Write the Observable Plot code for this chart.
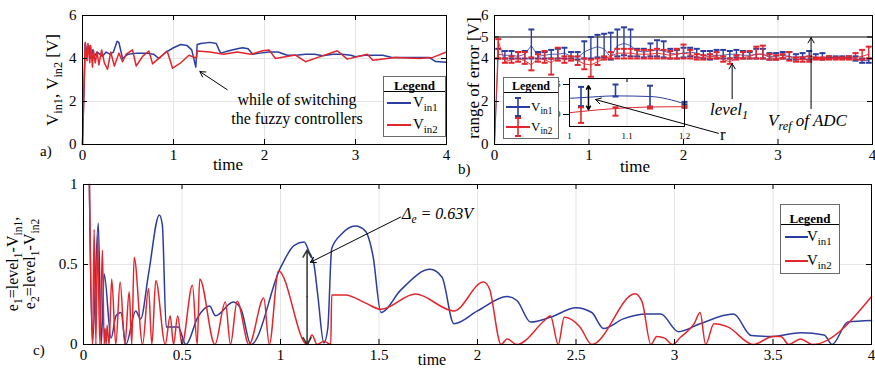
<!DOCTYPE html>
<html><head><meta charset="utf-8">
<script src="https://cdn.jsdelivr.net/npm/d3@7"></script>
<script src="https://cdn.jsdelivr.net/npm/@observablehq/plot@0.6"></script>
<style>
body{margin:0;background:#fff;}
#root{position:relative;width:875px;height:370px;overflow:hidden;font-family:"Liberation Serif","Times New Roman","Tinos","Nimbus Roman","FreeSerif","Noto Serif","DejaVu Serif",serif;color:#000;}
.abs{position:absolute;white-space:nowrap;line-height:1;}
.plot{position:absolute;}
.rot{transform:translate(-50%,-50%) rotate(-90deg);}
.ctr{transform:translateX(-50%);}
.sub{font-size:0.72em;position:relative;top:0.35em;}
.it{font-style:italic;}
.legend{position:absolute;background:#fff;border:1.5px solid #6a6a6a;box-sizing:border-box;}
.ltitle{position:absolute;left:0;right:0;top:0;text-align:center;font-weight:bold;font-size:13px;line-height:1;border-bottom:1px solid #000;}
.lsym{position:absolute;overflow:visible;}
.ltext{position:absolute;font-size:15px;line-height:1;white-space:nowrap;}
</style>
</head><body><div id="root"></div>
<script>
// ---------- Panel a data (time, V) ----------
const aT1 = [0,0.03,0.05,0.07,0.09,0.11,0.13,0.16,0.19,0.22,0.26,0.30,0.34,0.38,0.40,0.44,0.50,0.60,0.70,0.78,0.84,0.92,1.00,1.08,1.15,1.20,1.245,1.26,1.30,1.40,1.47,1.50,1.52,1.60,1.70,1.76,1.82,1.87,1.95,2.05,2.15,2.25,2.35,2.45,2.55,2.64,2.75,2.85,2.95,3.00,3.10,3.20,3.30,3.40,3.50,3.60,3.70,3.81,3.88,4.00];
const aV1 = [0,4.7,4.2,4.6,4.0,4.4,4.1,4.3,4.2,4.1,4.3,4.2,4.3,4.8,4.75,4.0,4.2,4.25,4.25,4.2,4.0,4.3,4.5,4.65,4.6,4.4,3.6,4.65,4.7,4.75,4.7,4.4,4.25,4.35,4.45,4.5,4.45,4.2,4.25,4.3,4.3,4.15,4.15,4.2,4.2,4.13,4.2,4.2,4.15,4.08,4.15,4.15,4.15,4.05,4.05,4.05,4.05,4.05,3.86,3.83];
const aT2 = [0,0.03,0.05,0.06,0.08,0.09,0.11,0.12,0.14,0.16,0.18,0.21,0.24,0.275,0.31,0.35,0.40,0.44,0.48,0.55,0.59,0.66,0.73,0.77,0.85,0.93,0.99,1.08,1.17,1.23,1.255,1.26,1.40,1.55,1.70,1.85,1.98,2.05,2.12,2.34,2.45,2.62,2.80,2.91,3.13,3.19,3.44,3.70,3.85,4.00];
const aV2 = [0,4.75,3.9,4.7,3.8,4.6,3.6,4.4,3.8,4.3,3.7,4.4,3.8,3.5,4.3,3.65,4.25,3.85,4.2,4.4,3.65,4.1,4.35,3.75,4.05,4.35,3.55,3.8,4.15,4.05,4.05,4.35,4.3,4.2,4.3,4.2,4.36,4.4,4.0,4.16,3.85,4.1,4.36,3.97,4.2,3.92,4.05,4.0,4.05,4.3];
const aArrow = [{x1:1.59,y1:2.55,x2:1.29,y2:3.39}];

// ---------- Panel b data (error bars) ----------
const bT = [0.04,0.11,0.18,0.25,0.32,0.39,0.46,0.53,0.60,0.67,0.74,0.81,0.88,0.95,1.02,1.09,1.16,1.23,1.30,1.37,1.44,1.51,1.58,1.65,1.72,1.79,1.86,1.93,2.00,2.07,2.14,2.21,2.28,2.35,2.42,2.49,2.56,2.63,2.70,2.77,2.84,2.91,2.98,3.05,3.12,3.19,3.26,3.33,3.40,3.47,3.54,3.61,3.68,3.75,3.82,3.89,3.96];
const bBlue = [4.2,4.15,4.15,4.1,4.2,4.6,4.1,4.15,4.2,4.2,4.25,4.1,4.05,4.3,4.45,4.55,4.45,4.05,4.6,4.7,4.6,4.35,4.3,4.35,4.4,4.35,4.25,4.2,4.25,4.3,4.25,4.15,4.1,4.15,4.15,4.2,4.2,4.15,4.15,4.2,4.2,4.1,4.1,4.15,4.1,4.05,4.1,4.1,4.05,4.05,4.05,4.05,4.05,4.05,4.0,3.9,3.9];
const bBlueLo = [4.0,4.0,4.0,4.0,4.0,4.0,4.0,4.0,4.0,4.0,4.0,4.0,3.95,4.0,4.0,4.05,4.05,3.95,4.1,4.15,4.1,4.1,4.05,4.1,4.1,4.05,4.0,4.0,4.05,4.1,4.05,4.0,3.95,4.0,4.0,4.0,4.05,4.0,4.0,4.0,4.0,3.95,3.95,4.0,3.95,3.95,4.0,3.95,4.0,3.95,4.0,4.0,4.0,4.0,3.9,3.8,3.8];
const bBlueHi = [4.45,4.35,4.35,4.3,4.35,5.35,4.3,4.3,4.4,4.45,4.5,4.3,4.3,4.8,5.0,5.1,5.15,5.2,5.35,5.45,5.35,4.45,4.45,4.7,4.85,4.8,4.45,4.4,4.5,4.5,4.45,4.35,4.35,4.4,4.4,4.35,4.4,4.35,4.3,4.45,4.45,4.25,4.25,4.3,4.3,4.2,4.25,4.35,4.2,4.25,4.1,4.1,4.1,4.1,4.1,4.0,4.0];
const bRed = [4.8,3.85,3.95,4.0,3.9,3.7,4.0,3.95,3.8,4.05,3.95,4.0,3.9,3.75,3.7,3.85,4.0,4.1,4.25,4.25,4.25,4.2,4.2,4.2,4.25,4.2,4.15,4.2,4.25,4.2,4.05,4.05,4.1,4.1,3.95,3.85,4.0,4.05,4.1,4.2,4.2,4.05,4.0,4.05,4.1,3.95,3.95,3.95,4.0,4.0,4.0,4.0,4.0,4.0,4.05,4.1,4.2];
const bRedLo = [4.0,3.8,3.8,3.85,3.75,3.45,3.85,3.8,3.25,3.9,3.8,3.9,3.7,3.5,3.15,3.7,3.95,4.0,4.0,4.0,4.0,4.0,4.0,4.0,4.0,4.0,4.0,4.0,4.0,4.0,3.95,3.95,4.0,4.0,3.85,3.75,3.95,4.0,4.0,4.0,4.0,3.95,3.95,4.0,3.9,3.85,3.85,3.85,3.95,3.95,3.95,3.95,3.95,3.95,3.95,3.95,4.0];
const bRedHi = [4.9,4.0,4.1,4.3,4.3,4.05,4.2,4.35,4.0,4.5,4.1,4.1,4.1,4.0,3.95,4.0,4.1,4.3,4.45,4.45,4.45,4.4,4.4,4.4,4.45,4.4,4.35,4.45,4.65,4.4,4.2,4.15,4.2,4.3,4.1,4.0,4.15,4.3,4.35,4.55,4.6,4.2,4.15,4.2,4.3,4.05,4.05,4.1,4.05,4.05,4.1,4.05,4.05,4.1,4.25,4.4,4.55];
const bLineT = [0, ...bT];
const bLineBlue = [0, ...bBlue];
const bLineRed = [0, ...bRed];
const bRef = [5];
const bArrows = [{x1:2.515,y1:2.13,x2:2.515,y2:3.76},{x1:3.35,y1:1.67,x2:3.35,y2:4.97}];
const bArrowR = [{x1:2.37,y1:0.52,x2:1.07,y2:2.09}];

// ---------- Inset (zoom of b) ----------
const insLineT = [1.0,1.02,1.08,1.14,1.2];
const insBlue = [4.27,4.28,4.31,4.30,4.18];
const insRed = [4.03,4.05,4.10,4.125,4.13];
const insBarT = [1.02,1.08,1.14,1.2];
const insBlueLo = [4.14,4.30,4.13,4.17];
const insBlueHi = [4.46,4.50,4.48,4.21];
const insRedLo = [3.86,3.98,4.10,4.11];
const insRedHi = [4.12,4.12,4.13,4.14];
const insDouble = [{x1:1.033,y1:4.28,x2:1.033,y2:4.48},{x1:1.033,y1:4.28,x2:1.033,y2:4.08}];

// ---------- Panel c data (error e) ----------
const cT1 = [0.03,0.045,0.075,0.09,0.105,0.14,0.165,0.19,0.215,0.265,0.29,0.33,0.385,0.40,0.42,0.48,0.52,0.58,0.64,0.67,0.76,0.80,0.85,1.00,1.07,1.12,1.145,1.17,1.19,1.22,1.24,1.26,1.31,1.38,1.43,1.47,1.51,1.61,1.76,1.82,1.88,2.00,2.15,2.20,2.27,2.37,2.50,2.58,2.64,2.74,2.86,2.93,3.02,3.13,3.30,3.39,3.50,3.64,3.76,3.80,3.88,4.00];
const cV1 = [1.0,0.0,0.76,0.0,0.44,0.04,0.18,0.2,0.0,0.21,0.16,0.44,0.81,0.75,0.11,0.11,0.0,0.17,0.24,0.18,0.265,0.22,0.0,0.48,0.62,0.64,0.58,0.5,0.3,0.01,0.1,0.6,0.69,0.74,0.71,0.55,0.2,0.34,0.47,0.42,0.13,0.21,0.3,0.275,0.14,0.17,0.23,0.2,0.1,0.16,0.19,0.19,0.08,0.13,0.19,0.056,0.05,0.074,0.06,0.0,0.14,0.15];
const cT2 = [0.03,0.046,0.054,0.063,0.071,0.083,0.096,0.105,0.11,0.115,0.12,0.13,0.143,0.164,0.186,0.21,0.232,0.245,0.257,0.30,0.33,0.347,0.367,0.415,0.44,0.457,0.478,0.50,0.553,0.577,0.59,0.667,0.72,0.746,0.78,0.84,0.915,0.943,0.99,1.135,1.16,1.186,1.22,1.255,1.26,1.33,1.43,1.51,1.685,1.88,2.03,2.06,2.12,2.15,2.20,2.34,2.37,2.41,2.44,2.52,2.58,2.80,2.836,2.88,2.91,2.95,2.99,3.03,3.10,3.13,3.158,3.20,3.27,3.40,3.50,3.54,3.58,3.64,3.70,4.00];
const cV2 = [1.0,0.0,0.72,0.0,0.68,0.0,0.59,0.0,0.1,0.0,0.12,0.0,0.41,0.0,0.39,0.0,0.33,0.0,0.545,0.0,0.35,0.0,0.40,0.0,0.18,0.0,0.18,0.0,0.37,0.0,0.41,0.0,0.265,0.0,0.27,0.0,0.29,0.0,0.46,0.0,0.06,0.0,0.02,0.0,0.31,0.31,0.26,0.22,0.315,0.21,0.39,0.35,0.0,0.035,0.0,0.15,0.18,0.0,0.17,0.11,0.0,0.317,0.265,0.0,0.05,0.04,0.0,0.045,0.13,0.2,0.0,0.13,0.11,0.0,0.05,0.05,0.0,0.035,0.0,0.3];
const cArrow = [{x1:1.609,y1:0.796,x2:1.152,y2:0.514}];
const cDouble = [{x1:1.135,y1:0.30,x2:1.135,y2:0.59},{x1:1.135,y1:0.30,x2:1.135,y2:0.0}];

// ---------- Ticks ----------
const aXTicks = [0,1,2,3,4], aYTicks = [0,2,4,6];
const bXTicks = [0,1,2,3,4], bYTicks = [0,2,4,5,6];
const cXTicks = [0,0.5,1,1.5,2,2.5,3,3.5,4], cYTicks = [0,0.5,1];
const insXTicks = [1,1.1,1.2];

const BLUE = "#2b3d9f", RED = "#e3262c";
const FONT = "'Liberation Serif', 'Times New Roman', Tinos, 'Nimbus Roman', FreeSerif, 'Noto Serif', 'DejaVu Serif', serif";
const root = document.getElementById("root");
const rows = (T, V) => T.map((t, i) => ({t, v: V[i]}));
const bars = (T, L, H) => T.map((t, i) => ({t, lo: L[i], hi: H[i]}));
const capSym = {draw(ctx, size){ const w = Math.sqrt(size/Math.PI); ctx.moveTo(-w,0); ctx.lineTo(w,0); }};

function place(svg, left, top, z){
  svg.classList.add("plot");
  svg.style.left = left + "px"; svg.style.top = top + "px";
  if (z) svg.style.zIndex = z;
  root.appendChild(svg);
}

function panel(c){
  const W = c.width - c.ml - c.mr, H = c.height - c.mt - c.mb;
  const fmt = d => String(d);
  const marks = [
    Plot.gridX({ticks: c.xTicks, stroke: "#e4e4e4", strokeOpacity: 1}),
    Plot.gridY({ticks: c.yTicks, stroke: "#e4e4e4", strokeOpacity: 1}),
    ...c.marks,
    Plot.ruleX(c.xTicks, {insetTop: H - 5, stroke: "#000"}),
    Plot.ruleX(c.xTicks, {insetBottom: H - 5, stroke: "#000"}),
    Plot.ruleY(c.yTicks, {insetRight: W - 5, stroke: "#000"}),
    Plot.ruleY(c.yTicks, {insetLeft: W - 5, stroke: "#000"}),
    Plot.frame({stroke: "#000", strokeWidth: 1}),
    Plot.axisX({ticks: c.xTicks, tickSize: 0, tickPadding: 5, tickFormat: fmt, label: null, fontFamily: FONT}),
    Plot.axisY({ticks: c.yTicks, tickSize: 0, tickPadding: 6, tickFormat: fmt, label: null, fontFamily: FONT})
  ];
  const svg = Plot.plot({
    width: c.width, height: c.height,
    marginLeft: c.ml, marginRight: c.mr, marginTop: c.mt, marginBottom: c.mb,
    x: {domain: c.xDomain, label: null}, y: {domain: c.yDomain, label: null},
    style: {fontFamily: FONT, fontSize: "15px", background: "transparent", overflow: "visible", color: "#000"},
    marks
  });
  place(svg, c.left, c.top);
  return svg;
}

// Panel a
panel({left: 0, top: 0, width: 450, height: 175, ml: 82, mr: 4, mt: 15, mb: 31,
  xDomain: [0,4], yDomain: [0,6], xTicks: aXTicks, yTicks: aYTicks,
  marks: [
    Plot.line(rows(aT1, aV1), {x: "t", y: "v", stroke: BLUE, strokeWidth: 1.5}),
    Plot.line(rows(aT2, aV2), {x: "t", y: "v", stroke: RED, strokeWidth: 1.5}),
    Plot.arrow(aArrow, {x1: "x1", y1: "y1", x2: "x2", y2: "y2", stroke: "#000", strokeWidth: 1, headLength: 9})
  ]});

// Panel b
const bBlueBars = bars(bT, bBlueLo, bBlueHi), bRedBars = bars(bT, bRedLo, bRedHi);
const capsOf = (B) => B.flatMap(d => [{t: d.t, v: d.lo}, {t: d.t, v: d.hi}]);
panel({left: 450, top: 0, width: 425, height: 175, ml: 44, mr: 3, mt: 15, mb: 31,
  xDomain: [0,4], yDomain: [0,6], xTicks: bXTicks, yTicks: bYTicks,
  marks: [
    Plot.ruleY(bRef, {stroke: "#808080", strokeWidth: 2}),
    Plot.line(rows(bLineT, bLineBlue), {x: "t", y: "v", stroke: BLUE, strokeWidth: 1, strokeOpacity: 0.8}),
    Plot.ruleX(bBlueBars, {x: "t", y1: "lo", y2: "hi", stroke: BLUE, strokeWidth: 1.4}),
    Plot.dot(capsOf(bBlueBars), {x: "t", y: "v", symbol: capSym, r: 3, fill: "none", stroke: BLUE, strokeWidth: 2}),
    Plot.line(rows(bLineT, bLineRed), {x: "t", y: "v", stroke: RED, strokeWidth: 1, strokeOpacity: 0.9}),
    Plot.ruleX(bRedBars, {x: "t", y1: "lo", y2: "hi", stroke: RED, strokeWidth: 1.4}),
    Plot.dot(capsOf(bRedBars), {x: "t", y: "v", symbol: capSym, r: 3, fill: "none", stroke: RED, strokeWidth: 2}),
    Plot.arrow(bArrows, {x1: "x1", y1: "y1", x2: "x2", y2: "y2", stroke: "#000", strokeWidth: 1, headLength: 9})
  ]});

// Inset
{
  const iBlue = bars(insBarT, insBlueLo, insBlueHi), iRed = bars(insBarT, insRedLo, insRedHi);
  const svg = Plot.plot({
    width: 115, height: 48, marginLeft: 0, marginRight: 0, marginTop: 0, marginBottom: 0,
    x: {domain: [1, 1.2], label: null}, y: {domain: [3.8, 4.6], label: null},
    style: {fontFamily: FONT, fontSize: "9px", background: "#fff", overflow: "visible", color: "#000"},
    marks: [
      Plot.gridX({ticks: [1.1], stroke: "#e4e4e4", strokeOpacity: 1}),
      Plot.line(rows(insLineT, insBlue), {x: "t", y: "v", stroke: BLUE, strokeWidth: 1, curve: "monotone-x"}),
      Plot.line(rows(insLineT, insRed), {x: "t", y: "v", stroke: RED, strokeWidth: 1, curve: "monotone-x"}),
      Plot.ruleX(iBlue, {x: "t", y1: "lo", y2: "hi", stroke: BLUE, strokeWidth: 1.6}),
      Plot.dot(capsOf(iBlue), {x: "t", y: "v", symbol: capSym, r: 3, fill: "none", stroke: BLUE, strokeWidth: 2}),
      Plot.ruleX(iRed, {x: "t", y1: "lo", y2: "hi", stroke: RED, strokeWidth: 1.6}),
      Plot.dot(capsOf(iRed), {x: "t", y: "v", symbol: capSym, r: 3, fill: "none", stroke: RED, strokeWidth: 2}),
      Plot.ruleX([1.1], {insetBottom: 44, stroke: "#000"}),
      Plot.arrow(insDouble, {x1: "x1", y1: "y1", x2: "x2", y2: "y2", stroke: "#000", strokeWidth: 1.5, headLength: 6}),
      Plot.frame({stroke: "#000"}),
      Plot.axisX({ticks: insXTicks, tickSize: 0, tickPadding: 6, tickFormat: d => String(d), label: null, fontFamily: FONT})
    ]
  });
  place(svg, 569, 78, 2);
}
// overlay arrow for "r" (drawn above the inset)
{
  const svg = Plot.plot({
    width: 425, height: 175, marginLeft: 44, marginRight: 3, marginTop: 15, marginBottom: 31,
    x: {domain: [0,4]}, y: {domain: [0,6]}, axis: null,
    style: {background: "transparent", overflow: "visible", pointerEvents: "none"},
    marks: [Plot.arrow(bArrowR, {x1: "x1", y1: "y1", x2: "x2", y2: "y2", stroke: "#000", strokeWidth: 1, headLength: 9})]
  });
  place(svg, 450, 0, 3);
}

// Panel c
panel({left: 0, top: 175, width: 875, height: 195, ml: 83, mr: 4, mt: 9, mb: 26,
  xDomain: [0,4], yDomain: [0,1], xTicks: cXTicks, yTicks: cYTicks,
  marks: [
    Plot.line(rows(cT1, cV1), {x: "t", y: "v", stroke: BLUE, strokeWidth: 1.5, curve: "monotone-x"}),
    Plot.line(rows(cT2, cV2), {x: "t", y: "v", stroke: RED, strokeWidth: 1.5, curve: "monotone-x"}),
    Plot.arrow(cDouble, {x1: "x1", y1: "y1", x2: "x2", y2: "y2", stroke: "#333", strokeWidth: 1.5, headLength: 8}),
    Plot.arrow(cArrow, {x1: "x1", y1: "y1", x2: "x2", y2: "y2", stroke: "#000", strokeWidth: 1, headLength: 9})
  ]});

// ---------- HTML text & legends ----------
function html(s){ const t = document.createElement("div"); t.innerHTML = s; const el = t.firstElementChild; root.appendChild(el); return el; }
const V = n => `V<span class="sub">in${n}</span>`;

html(`<div class="abs rot" style="left:52px;top:80px;font-size:17px">${V(1)}, ${V(2)} [V]</div>`);
html(`<div class="abs rot" style="left:473px;top:78px;font-size:17px">range of error [V]</div>`);
html(`<div class="abs rot" style="left:22px;top:264px;font-size:16px;line-height:15px;text-align:center">e<span class="sub">1</span>=level<span class="sub">1</span>-${V(1)},<br>e<span class="sub">2</span>=level<span class="sub">1</span>-${V(2)}</div>`);

html(`<div class="abs" style="left:40px;top:144px;font-size:15px">a)</div>`);
html(`<div class="abs" style="left:458px;top:162px;font-size:15px">b)</div>`);
html(`<div class="abs" style="left:33px;top:343px;font-size:15px">c)</div>`);

html(`<div class="abs ctr" style="left:228px;top:156px;font-size:17px">time</div>`);
html(`<div class="abs ctr" style="left:635px;top:158px;font-size:17px">time</div>`);
html(`<div class="abs ctr" style="left:432px;top:352px;font-size:16px">time</div>`);

html(`<div class="abs ctr" style="left:297px;top:90px;font-size:16px;line-height:19px;text-align:center">while of switching<br>the fuzzy controllers</div>`);
html(`<div class="abs it" style="left:710px;top:101px;font-size:17px">level<span class="sub">1</span></div>`);
html(`<div class="abs it" style="left:768px;top:112px;font-size:17px">V<span class="sub">ref</span> of ADC</div>`);
html(`<div class="abs" style="left:720px;top:126px;font-size:17px;z-index:4">r</div>`);
html(`<div class="abs it" style="left:402px;top:206px;font-size:16px">Δ<span class="sub">e</span> = 0.63V</div>`);

function lineLegend(left, top, w, h, sepY, ys, lineX, lineW, textX){
  const cols = [BLUE, RED];
  let s = `<div class="legend" style="left:${left}px;top:${top}px;width:${w}px;height:${h}px;z-index:5">`;
  s += `<div class="ltitle" style="height:${sepY}px;padding-top:${sepY-13}px;box-sizing:border-box">Legend</div>`;
  ys.forEach((y, i) => {
    s += `<svg class="lsym" style="left:${lineX}px;top:${y-2}px" width="${lineW}" height="4"><line x1="0" y1="2" x2="${lineW}" y2="2" stroke="${cols[i]}" stroke-width="2"/></svg>`;
    s += `<div class="ltext" style="left:${textX}px;top:${y-8}px">${V(i+1)}</div>`;
  });
  s += `</div>`;
  html(s);
}
lineLegend(383, 76, 63, 61, 15, [26, 48], 3, 24, 29);
lineLegend(780, 204, 60, 70, 20, [32, 56], 4, 23, 26);

{
  const cols = [BLUE, RED];
  let s = `<div class="legend" style="left:503px;top:77px;width:56px;height:62px;z-index:5">`;
  s += `<div class="ltitle" style="height:15px;padding-top:2px;box-sizing:border-box;font-size:12px">Legend</div>`;
  [29, 49].forEach((y, i) => {
    const c = cols[i];
    s += `<svg class="lsym" style="left:2px;top:${y-10}px" width="24" height="20">
      <line x1="0" y1="10" x2="24" y2="10" stroke="${c}" stroke-width="2"/>
      <line x1="12" y1="1" x2="12" y2="19" stroke="${c}" stroke-width="1.6"/>
      <line x1="9" y1="1" x2="15" y2="1" stroke="${c}" stroke-width="2"/>
      <line x1="9" y1="19" x2="15" y2="19" stroke="${c}" stroke-width="2"/></svg>`;
    s += `<div class="ltext" style="left:27px;top:${y-7}px;font-size:13px">${V(i+1)}</div>`;
  });
  s += `</div>`;
  html(s);
}
</script>
</body></html>
